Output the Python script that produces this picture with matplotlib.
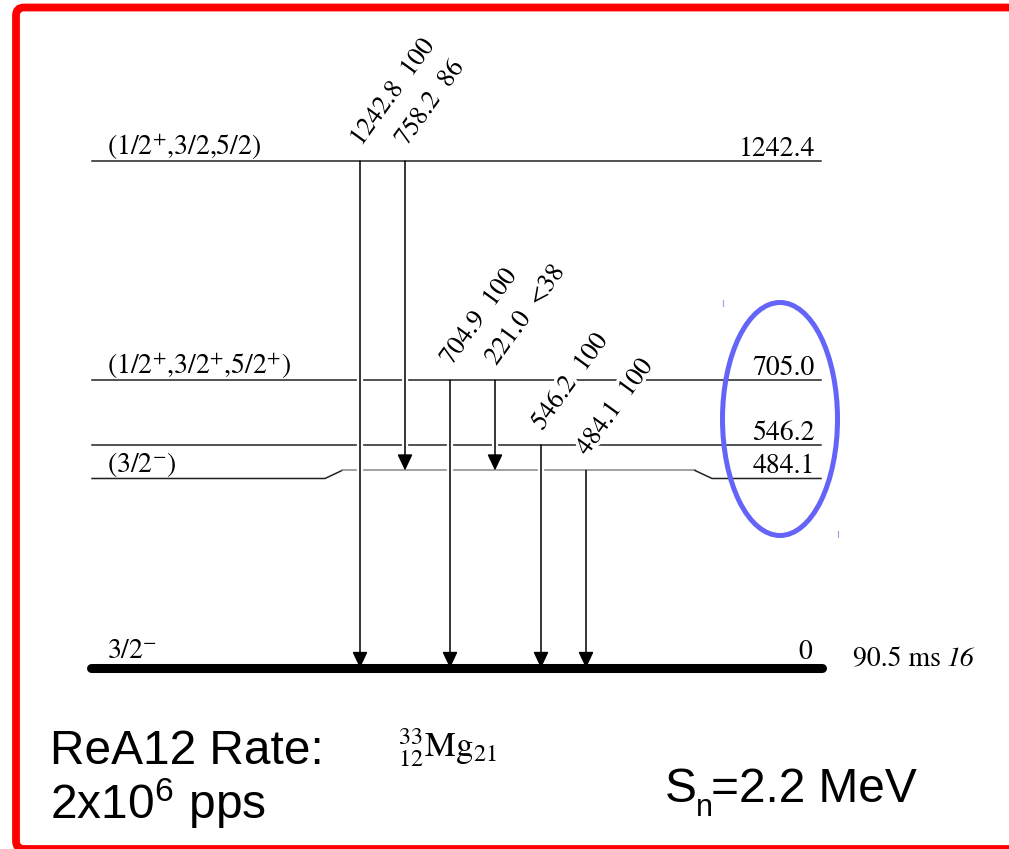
import matplotlib
matplotlib.use("Agg")
import matplotlib.pyplot as plt
import matplotlib.patheffects as pe
from matplotlib.patches import Ellipse, FancyBboxPatch
from matplotlib.transforms import IdentityTransform

plt.rcParams['font.family'] = ['STIXGeneral', 'DejaVu Serif']
plt.rcParams['mathtext.fontset'] = 'custom'
plt.rcParams['mathtext.rm'] = 'STIXGeneral'
plt.rcParams['mathtext.it'] = 'STIXGeneral:italic'
plt.rcParams['mathtext.sf'] = 'Liberation Sans'

######## level scheme of 33Mg

level_energy = [0.0, 484.1, 546.2, 705.0, 1242.4]
level_label = ["0", "484.1", "546.2", "705.0", "1242.4"]
level_spin = [r"3/2$^{-}$", r"(3/2$^{-}$)", "",
              r"(1/2$^{+}$,3/2$^{+}$,5/2$^{+}$)", r"(1/2$^{+}$,3/2,5/2)"]

gamma_energy = [1242.8, 758.2, 704.9, 221.0, 546.2, 484.1]
gamma_intensity = ["100", "86", "100", "<38", "100", "100"]
gamma_from = [1242.4, 1242.4, 705.0, 705.0, 546.2, 484.1]
gamma_to = [0.0, 484.1, 0.0, 484.1, 0.0, 0.0]

half_life = "90.5 ms"
half_life_err = "16"
nucleus = r"$^{33}_{12}\mathrm{Mg}_{21}$"

########

W, H = 1009, 849
fig = plt.figure(figsize=(W / 100, H / 100), dpi=100)

# x in pixels, y in keV (linear energy axis)
k = 0.408          # px per keV
y_ground = 668     # pixel row of the ground state
ax = fig.add_axes([0, 0, 1, 1])
ax.set_xlim(0, W)
ax.set_ylim(-(H - y_ground) / k, y_ground / k)
ax.axis("off")

px = 1 / k  # one pixel in keV
x_left, x_right = 92, 821
gamma_x = [360, 405, 450, 495, 541, 586]

# levels
for E, lab, spin in zip(level_energy, level_label, level_spin):
    y_lab = E
    if E == 0:
        ax.plot([x_left - 1, x_right + 1], [0, 0], color="black", lw=6.5,
                solid_capstyle="round", zorder=1)
        y_lab = 4 * px
    elif E == 484.1:
        d = 8 * px
        ax.plot([x_left, 325, 342], [E - d, E - d, E], color="#222222", lw=1.1, zorder=1)
        ax.plot([342, 695], [E, E], color="#888888", lw=1.1, zorder=1)
        ax.plot([695, 712, x_right], [E, E - d, E - d], color="#222222", lw=1.1, zorder=1)
        y_lab = E - d
    else:
        ax.plot([x_left, x_right], [E, E], color="#222222", lw=1.1, zorder=1)
    ax.text(815 if E > 0 else 812, y_lab + 5 * px, lab, ha="right", va="baseline",
            fontsize=20, zorder=5)
    if spin:
        ax.text(107, y_lab + 6 * px, spin, ha="left", va="baseline", fontsize=20, zorder=5)

t_half = ax.text(853, -4 * px, half_life, ha="left", va="bottom", fontsize=20)
ax.annotate(half_life_err, xy=(1, 0), xycoords=t_half, xytext=(4, 0),
            textcoords="offset points", ha="left", va="bottom", fontsize=20,
            fontstyle="italic")

# transitions
for x, Eg, I, Ei, Ef in zip(gamma_x, gamma_energy, gamma_intensity, gamma_from, gamma_to):
    ax.plot([x, x], [Ei - 2.5 * px, Ef + 16 * px], color="white", lw=4.5,
            solid_capstyle="butt", zorder=2)
    ax.annotate("", xy=(x, Ef), xytext=(x, Ei),
                arrowprops=dict(arrowstyle="-|>,head_length=0.7,head_width=0.33",
                                mutation_scale=14, lw=1.1, color="black",
                                shrinkA=0, shrinkB=0),
                zorder=3)
    ax.text(x + 1, Ei + 14 * px, f"{Eg:.1f}  {I}", rotation=54,
            rotation_mode="anchor", ha="left", va="baseline", fontsize=19, zorder=6,
            path_effects=[pe.withStroke(linewidth=5, foreground="white")])

# highlight around the low-lying levels
ax.add_patch(Ellipse((780, (y_ground - 419) * px), 115, 233 * px, fill=False,
                     ec="#6464f8", lw=3.6, zorder=7))
ax.plot([723, 723], [(y_ground - 300) * px, (y_ground - 306) * px], color="#9aa0e8", lw=0.8)
ax.plot([838, 838], [(y_ground - 531) * px, (y_ground - 537) * px], color="#9aa0e8", lw=0.8)


def fx(x):
    return x / W


def fy(y):
    return 1 - y / H


fig.text(fx(398), fy(757), nucleus, fontsize=25, ha="left", va="baseline")

sans = ["Liberation Sans", "DejaVu Sans"]
fig.text(fx(50), fy(764), "ReA12 Rate:", fontsize=34.5, family=sans, ha="left", va="baseline")
fig.text(fx(50), fy(819), r"2x10$^{\mathsf{6}}$ pps", fontsize=34.5, family=sans,
         ha="left", va="baseline")
fig.text(fx(665), fy(802), "S", fontsize=34.5, family=sans, ha="left", va="baseline")
fig.text(fx(696), fy(816), "n", fontsize=22, family=sans, ha="left", va="baseline")
fig.text(fx(711), fy(802), "=2.2 MeV", fontsize=34.5, family=sans, ha="left", va="baseline")

# red frame, open on the right and cut at the bottom
frame = FancyBboxPatch((16, 0), 1040, H - 7.5, boxstyle="round,pad=0,rounding_size=8",
                       transform=IdentityTransform(), fill=False, ec="#ff0000", lw=5.6)
fig.add_artist(frame)

fig.savefig("out.png", dpi=100)
